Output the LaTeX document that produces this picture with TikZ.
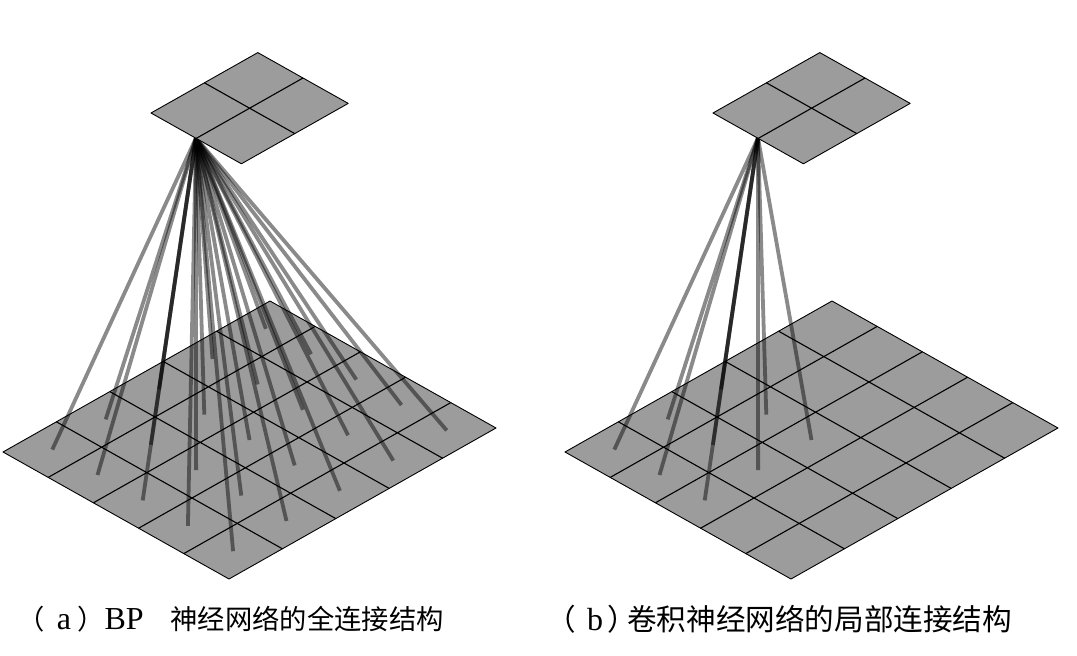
\documentclass[tikz,border=0pt]{standalone}
\usepackage{fontspec}
\setmainfont{Liberation Serif}
\newfontfamily\cjk{Noto Sans CJK SC}
\usetikzlibrary{positioning}

\definecolor{planegray}{RGB}{156,156,156}
\newcommand{\latbig}{\fontsize{32}{34}\selectfont}
\tikzset{
  plane/.style={draw=black, line width=0.9pt, fill=planegray, line join=round},
  gridline/.style={black, line width=1.1pt},
  link/.style={black, opacity=0.46, line width=3.8pt},
  caption/.style={inner sep=0pt, anchor=base west}
}

\begin{document}
\begin{tikzpicture}[x=1pt, y=-1pt]
  \useasboundingbox (0,0) rectangle (1077,656);

  % (a) input layer 5x5
  \begin{scope}[shift={(3,452)}, x={(53.4pt,30.2pt)}, y={(45.2pt,-25.4pt)}]
    \draw[plane] (0,0) -- (5,0) -- (5,5) -- (0,5) -- cycle;
    \foreach \k in {1,...,4}
      \draw[gridline] (\k,0) -- (\k,5) (0,\k) -- (5,\k);
    \foreach \i in {0,...,4}
      \foreach \j in {0,...,4}
        \coordinate (a\i\j) at (\i+0.5,\j+0.5);
  \end{scope}

  % (b) input layer 5x5
  \begin{scope}[shift={(565,452)}, x={(53.4pt,30.2pt)}, y={(45.2pt,-25.4pt)}]
    \draw[plane] (0,0) -- (5,0) -- (5,5) -- (0,5) -- cycle;
    \foreach \k in {1,...,4}
      \draw[gridline] (\k,0) -- (\k,5) (0,\k) -- (5,\k);
    \foreach \i in {0,...,4}
      \foreach \j in {0,...,4}
        \coordinate (b\i\j) at (\i+0.5,\j+0.5);
  \end{scope}

  \coordinate (apexa) at (196,138);
  \coordinate (apexb) at (758,138);

  % full connections
  \foreach \i in {0,...,4}
    \foreach \j in {0,...,4}
      \draw[link] (apexa) -- (a\i\j);
  % local connections
  \foreach \i in {0,1,2}
    \foreach \j in {0,1,2}
      \draw[link] (apexb) -- (b\i\j);

  % output layers 2x2
  \begin{scope}[shift={(151,113)}, x={(53.4pt,30.2pt)}, y={(45.2pt,-25.4pt)}]
    \draw[plane] (0,0) -- (2,0) -- (2,2) -- (0,2) -- cycle;
    \draw[gridline] (1,0) -- (1,2) (0,1) -- (2,1);
  \end{scope}
  \begin{scope}[shift={(713,113)}, x={(53.4pt,30.2pt)}, y={(45.2pt,-25.4pt)}]
    \draw[plane] (0,0) -- (2,0) -- (2,2) -- (0,2) -- cycle;
    \draw[gridline] (1,0) -- (1,2) (0,1) -- (2,1);
  \end{scope}

  \node[caption, font=\fontsize{27.3}{30}\selectfont] (capa) at (17,629.5)
    {{\cjk （}\hspace{12.5pt}{\latbig a}\hspace{6pt}{\cjk ）}{\latbig BP}\hspace{27pt}{\cjk 神经网络的全连接结构}};
  \node[caption, font=\fontsize{29.6}{32}\selectfont] (capb) at (546,630)
    {{\cjk （}\hspace{11.4pt}{\latbig b}\hspace{4pt}{\cjk ）}\hspace{-9.6pt}{\cjk 卷积神经网络的局部连接结构}};
\end{tikzpicture}
\end{document}
